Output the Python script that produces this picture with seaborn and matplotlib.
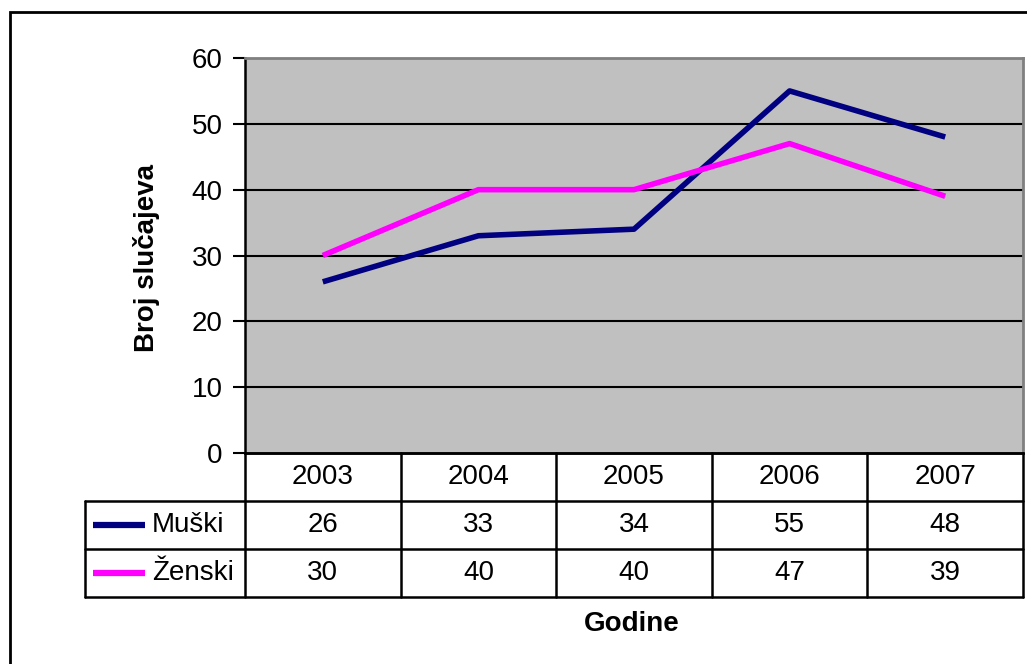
import numpy as np
import pandas as pd
import matplotlib
matplotlib.use("Agg")
import matplotlib.pyplot as plt
from matplotlib.patches import Rectangle
import seaborn as sns

godine = ["2003", "2004", "2005", "2006", "2007"]
muski = [26, 33, 34, 55, 48]
zenski = [30, 40, 40, 47, 39]
serije = ["Muški", "Ženski"]
boje = {"Muški": "#000080", "Ženski": "#FF00FF"}

sns.set_style("white")
plt.rcParams['font.family'] = ['Liberation Sans', 'DejaVu Sans']
plt.rcParams['text.color'] = 'black'
plt.rcParams['ytick.color'] = 'black'
plt.rcParams['ytick.labelcolor'] = 'black'

W, H = 1027, 664
fig = plt.figure(figsize=(W / 100, H / 100), dpi=100)

def box(x0, y0, x1, y1):
    # pixel box (top-left origin) -> figure fraction
    return [x0 / W, 1 - y1 / H, (x1 - x0) / W, (y1 - y0) / H]

# outer border of the chart area (runs off the right and bottom edge)
fig.add_artist(Rectangle((9.5 / W, -0.1), 1.2, 1 - 11.5 / H + 0.1,
                         transform=fig.transFigure, fill=False,
                         edgecolor="black", linewidth=2))

df = pd.DataFrame({
    "x": list(range(len(godine))) * 2,
    "vrijednost": muski + zenski,
    "serija": [serije[0]] * len(godine) + [serije[1]] * len(godine),
})

ax = fig.add_axes(box(245, 58, 1023, 453))
ax.set_facecolor("#C0C0C0")
for y in range(10, 60, 10):
    ax.axhline(y, color="black", linewidth=1.5, zorder=1)
sns.lineplot(data=df, x="x", y="vrijednost", hue="serija", palette=boje,
             linewidth=4, legend=False, ax=ax, zorder=3)
for ln in ax.lines[-2:]:
    ln.set_solid_capstyle("butt")
ax.set_xlim(-0.5, 4.5)
ax.set_ylim(0, 60)
ax.set_yticks(range(0, 61, 10))
ax.set_xticks([])
ax.set_xlabel("")
ax.set_ylabel("")
ax.tick_params(axis="y", direction="out", length=9, width=1.5, color="black",
               labelsize=20, pad=7, left=True, labelcolor="black")
ax.spines["left"].set_color("black")
ax.spines["left"].set_linewidth(1.8)
ax.spines["bottom"].set_color("black")
ax.spines["bottom"].set_linewidth(1.8)
ax.spines["top"].set_color("#808080")
ax.spines["top"].set_linewidth(2)
ax.spines["right"].set_color("#808080")
ax.spines["right"].set_linewidth(2)

fig.text(147 / W, 1 - 258 / H, "Broj slučajeva", rotation=90, ha="center",
         va="center", fontsize=20, fontweight="bold", color="black")
fig.text(632 / W, 1 - 624 / H, "Godine", ha="center", va="center",
         fontsize=20, fontweight="bold", color="black")

# data table below the plot
lijevo = -0.5 - (245 - 85) / ((1023 - 245) / 5)
tx = fig.add_axes(box(85, 453, 1023, 597))
tx.set_xlim(lijevo, 4.5)
tx.set_ylim(3, 0)
tx.axis("off")
lw = 1.8
kw = dict(color="black", linewidth=lw, clip_on=False)
tx.plot([-0.5, 4.5], [0, 0], **kw)
for r in [1, 2, 3]:
    tx.plot([lijevo, 4.5], [r, r], **kw)
for c in np.arange(-0.5, 4.6, 1):
    tx.plot([c, c], [0, 3], **kw)
tx.plot([lijevo, lijevo], [1, 3], **kw)

fs = 20
for i, g in enumerate(godine):
    tx.text(i, 0.5, g, ha="center", va="center", fontsize=fs, color="black")
for r, (ime, vals) in enumerate(zip(serije, [muski, zenski]), start=1):
    tx.plot([lijevo + 0.05, lijevo + 0.385], [r + 0.5, r + 0.5],
            color=boje[ime], linewidth=4.5, solid_capstyle="butt")
    tx.text(lijevo + 0.43, r + 0.5, ime, ha="left", va="center", fontsize=fs,
            color="black")
    for i, v in enumerate(vals):
        tx.text(i, r + 0.5, str(v), ha="center", va="center", fontsize=fs,
                color="black")

fig.savefig("out.png", dpi=100)
